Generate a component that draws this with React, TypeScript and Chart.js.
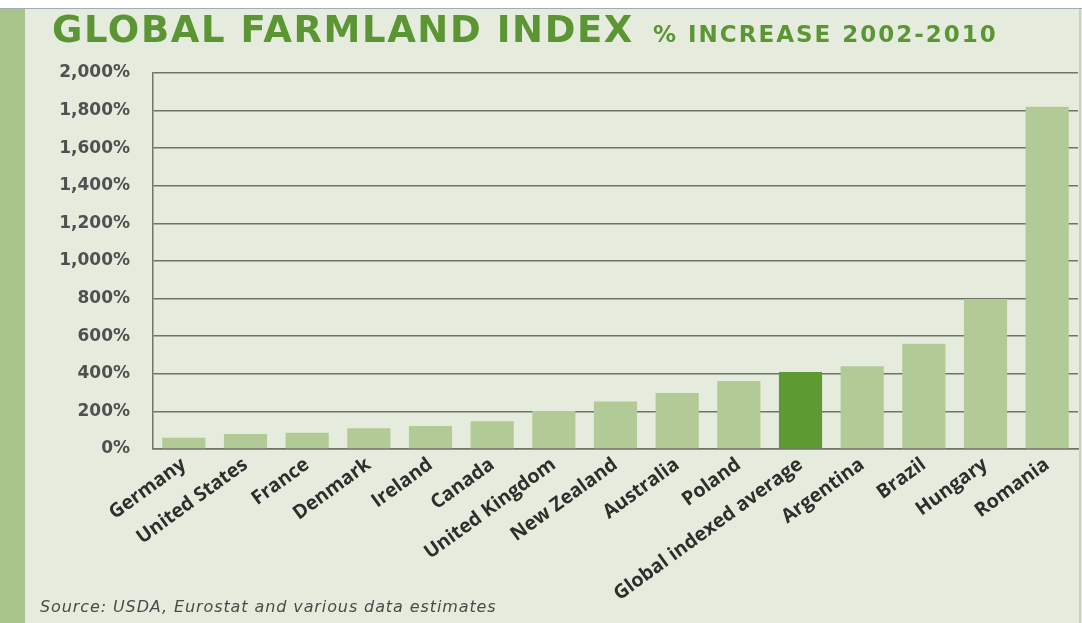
import React, { useEffect, useRef } from "react";
import { Chart, registerables } from "chart.js";

Chart.register(...registerables);

const categories = [
  "Germany",
  "United States",
  "France",
  "Denmark",
  "Ireland",
  "Canada",
  "United Kingdom",
  "New Zealand",
  "Australia",
  "Poland",
  "Global indexed average",
  "Argentina",
  "Brazil",
  "Hungary",
  "Romania",
];

const increasePct = [60, 80, 87, 110, 122, 147, 202, 252, 298, 362, 410, 440, 560, 798, 1820];

const yTicks = [0, 200, 400, 600, 800, 1000, 1200, 1400, 1600, 1800, 2000];

const highlighted = "Global indexed average";

const W = 1082;
const H = 623;
const BG = "#E6ECDD";
const BAR = "#B2CB96";
const BAR_HI = "#5E9A32";
const GRID = "#6F7466";
const TITLE_GREEN = "#5C9533";

export default function App() {
  const ref = useRef<HTMLCanvasElement | null>(null);

  useEffect(() => {
    if (!ref.current) return;
    const chart = new Chart(ref.current, {
      type: "bar",
      data: {
        labels: categories,
        datasets: [
          {
            data: increasePct,
            backgroundColor: categories.map((c) => (c === highlighted ? BAR_HI : BAR)),
            borderWidth: 0,
            categoryPercentage: 1,
            barPercentage: 0.7,
          },
        ],
      },
      options: {
        responsive: false,
        animation: false,
        maintainAspectRatio: false,
        layout: { padding: { top: 73, right: 4, left: 0, bottom: 0 } },
        plugins: {
          legend: { display: false },
          tooltip: { enabled: false },
          title: { display: false },
        },
        scales: {
          x: {
            grid: { display: false, drawTicks: false },
            border: { display: true, color: GRID, width: 1.5 },
            ticks: {
              minRotation: 36,
              maxRotation: 36,
              autoSkip: false,
              padding: 4,
              color: "#2E2E2E",
              font: { family: "'Open Sans', sans-serif", size: 19.5, weight: "bold" },
            },
            afterFit: (scale: any) => {
              scale.height = H - 449;
            },
          },
          y: {
            min: 0,
            max: 2000,
            afterBuildTicks: (scale: any) => {
              scale.ticks = yTicks.map((v) => ({ value: v }));
            },
            grid: { color: GRID, lineWidth: 1.5, drawTicks: false },
            border: { display: true, color: GRID, width: 1.5 },
            ticks: {
              padding: 23,
              color: "#505050",
              font: { family: "'DejaVu Sans', sans-serif", size: 17, weight: "bold" },
              callback: (v: any) => Number(v).toLocaleString("en-US") + "%",
            },
            afterFit: (scale: any) => {
              scale.width = 153;
            },
          },
        },
      },
    });
    return () => chart.destroy();
  }, []);

  return (
    <div
      style={{
        position: "absolute",
        left: 0,
        top: 0,
        width: W,
        height: H,
        background: BG,
        overflow: "hidden",
      }}
    >
      <div
        style={{
          position: "absolute",
          left: 0,
          top: 0,
          width: W,
          height: 9,
          background: "#FFFFFF",
          borderBottom: "1px solid #A3AAB8",
          boxSizing: "border-box",
        }}
      />
      <div
        style={{
          position: "absolute",
          left: 0,
          top: 9,
          width: 25,
          height: H - 9,
          background: "#A9C48B",
        }}
      />
      <div
        style={{
          position: "absolute",
          left: 1079,
          top: 9,
          width: 2,
          height: H - 9,
          background: "#C9CEC2",
        }}
      />
      <canvas ref={ref} width={W} height={H} style={{ position: "absolute", left: 0, top: 0 }} />
      <div
        style={{
          position: "absolute",
          left: 52,
          top: 7,
          fontFamily: "'DejaVu Sans', sans-serif",
          fontWeight: "bold",
          fontSize: 37,
          letterSpacing: 1.6,
          color: TITLE_GREEN,
          whiteSpace: "nowrap",
          lineHeight: "46px",
        }}
      >
        GLOBAL FARMLAND INDEX
      </div>
      <div
        style={{
          position: "absolute",
          left: 653,
          top: 19,
          fontFamily: "'DejaVu Sans', sans-serif",
          fontWeight: "bold",
          fontSize: 23,
          letterSpacing: 2,
          color: TITLE_GREEN,
          whiteSpace: "nowrap",
          lineHeight: "30px",
        }}
      >
        % INCREASE 2002-2010
      </div>
      <div
        style={{
          position: "absolute",
          left: 40,
          top: 596,
          fontFamily: "'DejaVu Sans', sans-serif",
          fontStyle: "italic",
          fontSize: 16,
          letterSpacing: 0.9,
          color: "#4A4A4A",
          whiteSpace: "nowrap",
          lineHeight: "22px",
        }}
      >
        Source: USDA, Eurostat and various data estimates
      </div>
    </div>
  );
}
